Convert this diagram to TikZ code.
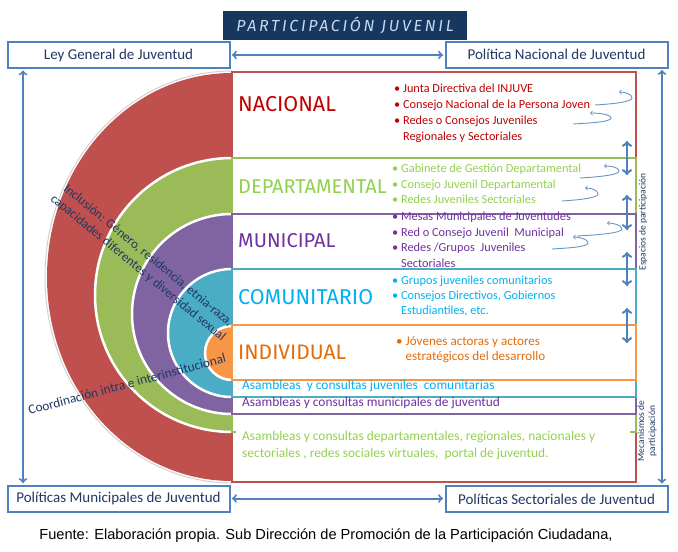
\documentclass[tikz,border=0pt]{standalone}
\usepackage{fontspec}
\setmainfont{Carlito}
\newfontfamily\comicfont{Fira Sans}
\newfontfamily\titlefont[LetterSpace=17]{Fira Sans}
\newfontfamily\fuentefont{Liberation Sans}
\usepackage{tikz}
\usetikzlibrary{arrows,positioning,calc}
\definecolor{azul}{HTML}{4F81BD}
\definecolor{marino}{HTML}{17375E}
\definecolor{titulo}{HTML}{C6D9F1}
\definecolor{textoazul}{HTML}{1F3864}
\definecolor{anillorojo}{HTML}{C0504D}
\definecolor{anilloverde}{HTML}{9BBB59}
\definecolor{anillomorado}{HTML}{8064A2}
\definecolor{anillocian}{HTML}{4BACC6}
\definecolor{anillonaranja}{HTML}{F79646}
\definecolor{rojo}{HTML}{C00000}
\definecolor{verde}{HTML}{92D050}
\definecolor{morado}{HTML}{7030A0}
\definecolor{cian}{HTML}{00B0F0}
\definecolor{naranja}{HTML}{E36C09}

\begin{document}
\begin{tikzpicture}[x = 1pt, y = -1pt,
  polbox/.style = {draw = azul, line width = 2pt, fill = white, minimum width = 222pt, minimum height = 26pt, inner sep = 0pt, text = textoazul, font = \fontsize{15}{17}\selectfont},
  nivel/.style = {anchor = west, inner sep = 0pt, font = \comicfont\fontsize{20}{22}\selectfont},
  lista/.style = {anchor = west, align = left, inner sep = 0pt, font = \fontsize{12.3}{15.5}\selectfont},
  fila/.style = {anchor = west, align = left, inner sep = 0pt, font = \fontsize{13.4}{16.5}\selectfont},
  nota/.style = {inner sep = 0pt, align = center, text = textoazul, font = \fontsize{13}{16}\selectfont},
  eje/.style = {<->, draw = azul, line width = 2pt, shorten < = 1.5pt, shorten > = 1.5pt},
  salto/.style = {<->, draw = azul, line width = 2.5pt},
  rizo/.style = {->, draw = azul!85, line width = 0.9pt}]
  \useasboundingbox (0,0) rectangle (678,552);

  % half rings
  \fill[anillorojo] (232,73) arc[start angle = 270, end angle = 90, x radius = 185, y radius = 204] -- cycle;
  \draw[black!18, line width = 1pt] (232,71) arc[start angle = 270, end angle = 90, x radius = 187, y radius = 206];
  \fill[anilloverde] (232,158) arc[start angle = 270, end angle = 90, radius = 137] -- cycle;
  \draw[white, line width = 2.5pt] (232,158) arc[start angle = 270, end angle = 90, radius = 137];
  \fill[anillomorado] (232,214) arc[start angle = 270, end angle = 90, radius = 100] -- cycle;
  \draw[white, line width = 2.5pt] (232,214) arc[start angle = 270, end angle = 90, radius = 100];
  \fill[anillocian] (232,269) arc[start angle = 270, end angle = 90, radius = 64] -- cycle;
  \draw[white, line width = 2.5pt] (232,269) arc[start angle = 270, end angle = 90, radius = 64];
  \fill[anillonaranja] (232,326) arc[start angle = 270, end angle = 90, radius = 27] -- cycle;
  \draw[white, line width = 2.5pt] (232,326) arc[start angle = 270, end angle = 90, radius = 27];

  % level frames
  \draw[anillorojo, line width = 1.5pt] (232,72) rectangle (636,482);
  \draw[anilloverde, line width = 1.5pt] (236,432) -- (232,432) -- (232,158) -- (636,158) -- (636,432) -- (630,432);
  \draw[anillomorado, line width = 1.5pt] (232,214) rectangle (636,414);
  \draw[anillocian, line width = 1.5pt] (232,269) rectangle (636,397);
  \draw[anillonaranja, line width = 1.5pt] (232,325) rectangle (636,380);

  \node[fill = marino, minimum width = 244pt, minimum height = 29pt, inner sep = 0pt, text = titulo, font = \titlefont\itshape\fontsize{16}{18}\selectfont] (titulo) at (345,25.5) {PARTICIPACIÓN JUVENIL};

  \node[polbox] (ley) at (118.5,55) {Ley General de Juventud};
  \node[polbox] (pnac) at (556.5,54.5) {Política Nacional de Juventud};
  \node[polbox] (pmun) at (118.5,498.5) {Políticas Municipales de Juventud};
  \node[polbox] (psec) at (556.5,499) {Políticas Sectoriales de Juventud};
  \draw[eje] (ley.east) -- (ley.east -| pnac.west);
  \draw[eje] (pmun.east) -- (pmun.east -| psec.west);
  \draw[eje] ([xshift = -95.5pt]ley.south) -- ([xshift = -95.5pt]pmun.north);
  \draw[eje] ([xshift = 105.5pt]pnac.south) -- ([xshift = 105.5pt]psec.north);

  \node[nivel, text = rojo, font = \comicfont\fontsize{21.5}{22}\selectfont] (nac) at (238,104) {NACIONAL};
  \node[nivel, text = verde] (dep) at (238,187) {DEPARTAMENTAL};
  \node[nivel, text = morado] (mun) at (238,241) {MUNICIPAL};
  \node[nivel, text = cian, font = \comicfont\fontsize{21.5}{22}\selectfont] (com) at (238,297) {COMUNITARIO};
  \node[nivel, text = naranja, font = \comicfont\fontsize{21}{22}\selectfont] (ind) at (238,352) {INDIVIDUAL};

  \node[lista, text = rojo, font = \fontsize{12.3}{16}\selectfont] (lnac) at (394,113) {\textbullet\ Junta Directiva del INJUVE\\ \textbullet\ Consejo Nacional de la Persona Joven\\ \textbullet\ Redes o Consejos Juveniles\\ \phantom{\textbullet\ }Regionales y Sectoriales};
  \node[lista, text = verde] (ldep) at (392,184) {\textbullet\ Gabinete de Gestión Departamental\\ \textbullet\ Consejo Juvenil Departamental\\ \textbullet\ Redes Juveniles Sectoriales};
  \node[lista, text = morado] (lmun) at (392,240) {\textbullet\ Mesas Municipales de Juventudes\\ \textbullet\ Red o Consejo Juvenil\ \ Municipal\\ \textbullet\ Redes /Grupos\ \ Juveniles\\ \phantom{\textbullet\ }Sectoriales};
  \node[lista, text = cian, font = \fontsize{12.3}{15}\selectfont] (lcom) at (392,296) {\textbullet\ Grupos juveniles comunitarios\\ \textbullet\ Consejos Directivos, Gobiernos\\ \phantom{\textbullet\ }Estudiantiles, etc.};
  \node[lista, text = naranja, font = \fontsize{13.1}{15}\selectfont] (lind) at (396,350) {\textbullet\ Jóvenes actoras y actores\\ \phantom{\textbullet\ }estratégicos del desarrollo};

  \node[fila, text = cian] (acom) at (242,386) {Asambleas\ \ y consultas juveniles\ \ comunitarias};
  \node[fila, text = morado] (amun) at (242,403) {Asambleas y consultas municipales de juventud};
  \node[fila, text = verde] (adep) at (242,445.5) {Asambleas y consultas departamentales, regionales, nacionales y\\ sectoriales , redes sociales virtuales,\ \ portal de juventud.};

  % links between levels
  \coordinate (e1a) at (627,141);
  \coordinate (e1b) at (627,175);
  \coordinate (e2a) at (627,195);
  \coordinate (e2b) at (627,230);
  \coordinate (e3a) at (627,252);
  \coordinate (e3b) at (627,286);
  \coordinate (e4a) at (627,308);
  \coordinate (e4b) at (627,343);
  \draw[salto] (e1a) -- (e1b);
  \draw[salto] (e2a) -- (e2b);
  \draw[salto] (e3a) -- (e3b);
  \draw[salto] (e4a) -- (e4b);

  % loops
  \draw[rizo] (595,105) .. controls (612,104) and (632,102) .. (632,98) .. controls (632,94) and (625,92) .. (619,92);
  \draw[rizo] (573,124) .. controls (590,123) and (611,122) .. (611,118) .. controls (611,114) and (597,113) .. (590,113);
  \draw[rizo] (580,178) .. controls (598,177) and (619,175) .. (619,171) .. controls (619,167) and (610,166) .. (604,166);
  \draw[rizo] (562,201) .. controls (578,200) and (598,198) .. (598,194) .. controls (598,190) and (591,188) .. (585,188);
  \draw[rizo] (577,236) .. controls (597,235) and (622,233) .. (622,229) .. controls (622,225) and (613,223) .. (607,223);
  \draw[rizo] (552,249) .. controls (568,248) and (588,247) .. (588,243) .. controls (588,239) and (579,237) .. (573,237);

  \node[nota, rotate = -39.5] (inclusion) at (143,262) {Inclusión: Género, residencia, etnia-raza,\\capacidades diferentes y diversidad sexual};
  \node[nota, rotate = 15, font = \fontsize{13.3}{16}\selectfont] (coordinacion) at (127,384) {Coordinación intra e interinstitucional};
  \node[nota, rotate = 90, font = \fontsize{9.5}{11}\selectfont] (espacios) at (643,222) {Espacios de participación};
  \node[nota, rotate = 90, font = \fontsize{9.5}{11}\selectfont] (mecanismos) at (647,431) {Mecanismos de\\participación};

  \node[inner sep = 0pt, font = \fuentefont\fontsize{14.6}{16}\selectfont] (fuente) at (326,536) {Fuente: Elaboración propia. Sub Dirección de Promoción de la Participación Ciudadana,};
\end{tikzpicture}
\end{document}
